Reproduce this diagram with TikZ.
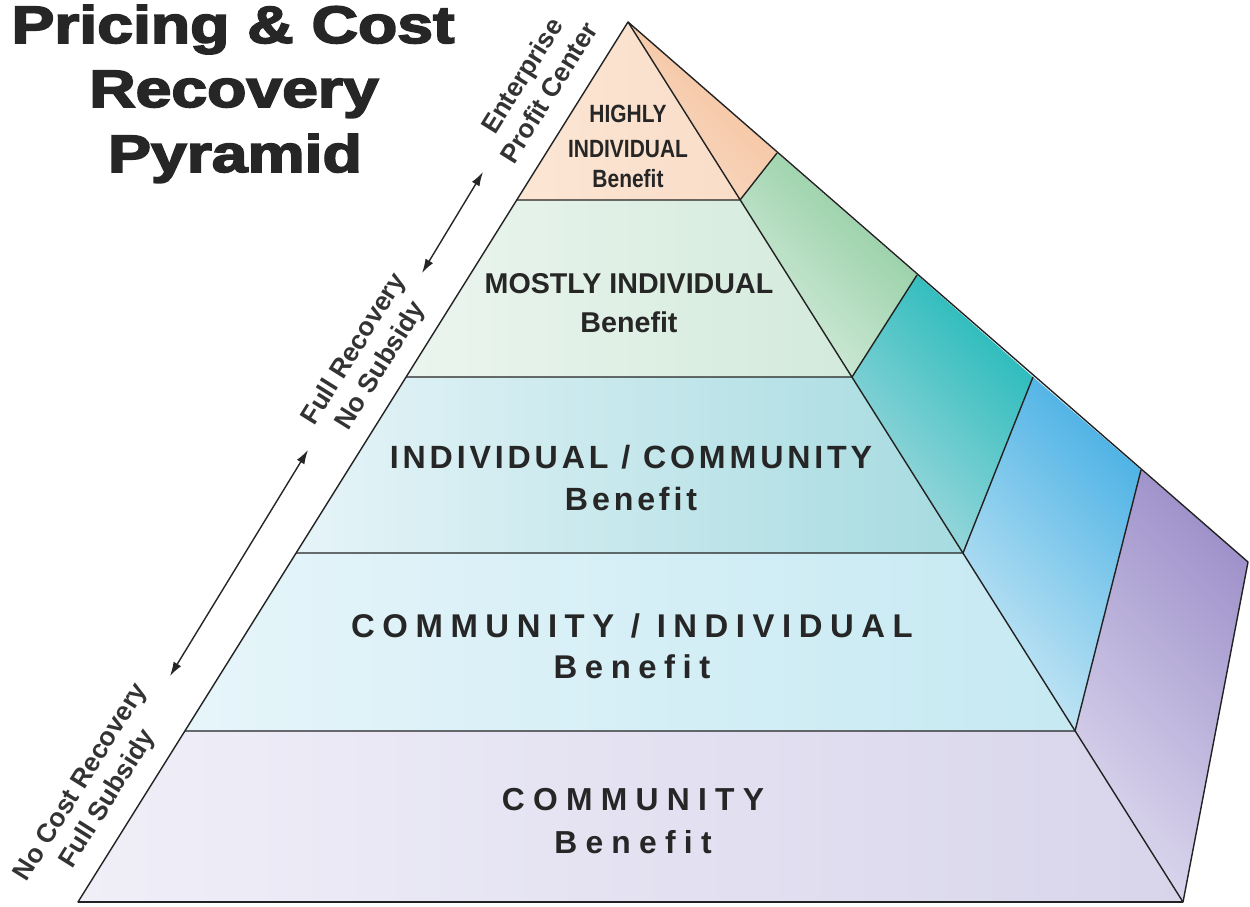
\documentclass[tikz,border=0pt]{standalone}
\usepackage{fontspec}
\setmainfont{Liberation Sans}
\newfontfamily\titlefont{Liberation Sans Bold}[FakeBold=3]
\usepackage{graphicx}
\usetikzlibrary{arrows.meta}
\usetikzlibrary{calc}

\definecolor{edgeline}{HTML}{222222}
\definecolor{peachfront}{HTML}{FCE6D4}
\definecolor{peachfrontdk}{HTML}{F9DDC8}
\definecolor{peachside}{HTML}{F3BE98}
\definecolor{peachsidelt}{HTML}{FADCC6}
\definecolor{greenfrontlt}{HTML}{EBF5EF}
\definecolor{greenfront}{HTML}{D3EADB}
\definecolor{greenside}{HTML}{8CCB9D}
\definecolor{greensidelt}{HTML}{D8EDDF}
\definecolor{tealfrontlt}{HTML}{E6F4F8}
\definecolor{tealfront}{HTML}{A6DBE0}
\definecolor{tealside}{HTML}{22B9B9}
\definecolor{tealsidelt}{HTML}{A6DADF}
\definecolor{bluefrontlt}{HTML}{E6F5FA}
\definecolor{bluefront}{HTML}{C6E9F2}
\definecolor{blueside}{HTML}{4BB1E5}
\definecolor{bluesidelt}{HTML}{C8E8F5}
\definecolor{purplefrontlt}{HTML}{F0EFF8}
\definecolor{purplefront}{HTML}{D8D5EB}
\definecolor{purpleside}{HTML}{9E91CA}
\definecolor{purplesidelt}{HTML}{DCD8EE}

\tikzset{
  tieredge/.style={draw=edgeline, line width=0.8pt, line join=round},
  tierlabel/.style={inner sep=0pt, anchor=base, text=black!85},
  sidelabel/.style={inner sep=0pt, rotate=58, align=center, text=black!80,
    font=\bfseries\fontsize{15}{18}\selectfont},
  dblarrow/.style={{Latex[length=8pt,width=5pt]}-{Latex[length=8pt,width=5pt]}, line width=0.8pt, black!85},
}

\begin{document}
\begin{tikzpicture}[x=0.02cm,y=-0.02cm]
        \useasboundingbox (0,0) rectangle (1250,906);
        % pyramid corners, front face
        \coordinate (apex) at (628,22);
        \coordinate (l1) at (517,200);
        \coordinate (r1) at (740,200);
        \coordinate (l2) at (406,377);
        \coordinate (r2) at (852,377);
        \coordinate (l3) at (296,553);
        \coordinate (r3) at (963,553);
        \coordinate (l4) at (185,731);
        \coordinate (r4) at (1075,731);
        \coordinate (l5) at (78,902);
        \coordinate (r5) at (1183,902);
        % back edge of the side face
        \coordinate (o1) at (777,153);
        \coordinate (o2) at (917,275);
        \coordinate (o3) at (1033,377);
        \coordinate (o4) at (1141,470);
        \coordinate (o5) at (1248,562);
        % front tiers
        \shade[left color=peachfront, right color=peachfrontdk] (apex) -- (l1) -- (r1) -- cycle;
        \shade[left color=greenfrontlt, right color=greenfront] (l1) -- (r1) -- (r2) -- (l2) -- cycle;
        \shade[left color=tealfrontlt, right color=tealfront] (l2) -- (r2) -- (r3) -- (l3) -- cycle;
        \shade[left color=bluefrontlt, right color=bluefront] (l3) -- (r3) -- (r4) -- (l4) -- cycle;
        \shade[left color=purplefrontlt, right color=purplefront] (l4) -- (r4) -- (r5) -- (l5) -- cycle;
        % side strips
        \shade[top color=peachside, bottom color=peachsidelt, shading angle=-45] (apex) -- (o1) -- (r1) -- cycle;
        \shade[top color=greenside, bottom color=greensidelt, shading angle=-45] (r1) -- (o1) -- (o2) -- (r2) -- cycle;
        \shade[top color=tealside, bottom color=tealsidelt, shading angle=-45] (r2) -- (o2) -- (o3) -- (r3) -- cycle;
        \shade[top color=blueside, bottom color=bluesidelt, shading angle=-45] (r3) -- (o3) -- (o4) -- (r4) -- cycle;
        \shade[top color=purpleside, bottom color=purplesidelt, shading angle=-45] (r4) -- (o4) -- (o5) -- (r5) -- cycle;
        % edges
        \draw[tieredge] (apex) -- (l5) -- (r5) -- (o5) -- cycle;
        \draw[tieredge] (apex) -- (r5);
        \draw[tieredge] (l1) -- (r1) -- (o1);
        \draw[tieredge] (l2) -- (r2) -- (o2);
        \draw[tieredge] (l3) -- (r3) -- (o3);
        \draw[tieredge] (l4) -- (r4) -- (o4);
        \draw[draw=edgeline, line width=1.4pt] (l5) -- (r5);
        % title
        \node[tierlabel] (title1) at (233,43) {\titlefont\fontsize{30}{36}\selectfont\scalebox{1.22}[1]{Pricing \& Cost}};
        \node[tierlabel] (title2) at (234,107) {\titlefont\fontsize{30}{36}\selectfont\scalebox{1.22}[1]{Recovery}};
        \node[tierlabel] (title3) at (235,172) {\titlefont\fontsize{30}{36}\selectfont\scalebox{1.22}[1]{Pyramid}};
        % tier labels
        \node[tierlabel, font=\bfseries\fontsize{14.2}{16}\selectfont] (hi1) at (628,122) {\scalebox{0.84}[1]{HIGHLY}};
        \node[tierlabel, font=\bfseries\fontsize{14.2}{16}\selectfont] (hi2) at (628,157) {\scalebox{0.84}[1]{INDIVIDUAL}};
        \node[tierlabel, font=\bfseries\fontsize{14.2}{16}\selectfont] (hi3) at (628,187) {\scalebox{0.84}[1]{Benefit}};
        \node[tierlabel, font=\bfseries\fontsize{16.3}{18}\selectfont] (mo1) at (629,293) {MOSTLY INDIVIDUAL};
        \node[tierlabel, font=\bfseries\fontsize{16.3}{18}\selectfont] (mo2) at (629,332) {Benefit};
        \node[tierlabel, font=\bfseries\fontsize{18.3}{20}\selectfont\addfontfeature{LetterSpace=12}] (ic1) at (631,468) {INDIVIDUAL / COMMUNITY};
        \node[tierlabel, font=\bfseries\fontsize{18.3}{20}\selectfont\addfontfeature{LetterSpace=12}] (ic2) at (631,510) {Benefit};
        \node[tierlabel, font=\bfseries\fontsize{18.7}{20}\selectfont\addfontfeature{LetterSpace=23}] (ci1) at (632,637) {COMMUNITY / INDIVIDUAL};
        \node[tierlabel, font=\bfseries\fontsize{18.7}{20}\selectfont\addfontfeature{LetterSpace=23}] (ci2) at (632,678) {Benefit};
        \node[tierlabel, font=\bfseries\fontsize{18.1}{20}\selectfont\addfontfeature{LetterSpace=26}] (co1) at (633,810) {COMMUNITY};
        \node[tierlabel, font=\bfseries\fontsize{18.1}{20}\selectfont\addfontfeature{LetterSpace=26}] (co2) at (633,853) {Benefit};
        % side labels and arrows
        \node[sidelabel] (ent) at (535,84) {Enterprise\\Profit Center};
        \node[sidelabel] (full) at (368,358) {Full Recovery\\No Subsidy};
        \node[sidelabel] (nocost) at (95,791) {No Cost Recovery\\Full Subsidy};
        \coordinate (ea) at (422,273);
        \coordinate (eb) at (483,172);
        \coordinate (fa) at (170,676);
        \coordinate (fb) at (308,450);
        \draw[dblarrow] (ea) -- (eb);
        \draw[dblarrow] (fa) -- (fb);
    \end{tikzpicture}
\end{document}
